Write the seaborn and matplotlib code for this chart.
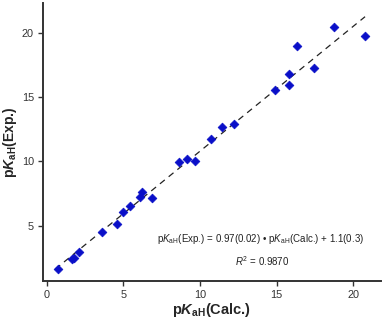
import matplotlib
matplotlib.use("Agg")
import matplotlib.pyplot as plt
import seaborn as sns
import pandas as pd
import numpy as np

# Data
calc = [0.76, 1.63, 1.76, 2.09, 3.59, 4.61, 4.98, 5.43, 6.09, 6.20, 6.85,
        8.63, 9.17, 9.65, 10.70, 11.44, 12.24, 14.89, 15.81, 15.83, 16.35,
        17.44, 18.76, 20.76]
exp = [1.67, 2.45, 2.50, 2.99, 4.54, 5.16, 6.09, 6.56, 7.27, 7.61, 7.20,
       9.96, 10.22, 10.06, 11.77, 12.67, 12.88, 15.52, 15.90, 16.75, 18.97,
       17.27, 20.42, 19.72]
slope = 0.97
intercept = 1.1
xticks = [0, 5, 10, 15, 20]
yticks = [5, 10, 15, 20]

sns.set_theme(style="ticks")
plt.rcParams["font.family"] = ["Liberation Sans", "DejaVu Sans"]
plt.rcParams["mathtext.fontset"] = "custom"
plt.rcParams["mathtext.rm"] = "Liberation Sans"
plt.rcParams["mathtext.it"] = "Liberation Sans:italic"
plt.rcParams["mathtext.bf"] = "Liberation Sans:bold"
plt.rcParams["mathtext.bfit"] = "Liberation Sans:bold:italic"

df = pd.DataFrame({"calc": calc, "exp": exp})

fig = plt.figure(figsize=(3.83, 3.22), dpi=100)
ax = fig.add_axes([0.1123, 0.1273, 0.8825, 0.8634])

lx = np.array([min(calc) - 0.2, max(calc)])
line_df = pd.DataFrame({"x": lx, "y": slope * lx + intercept})
sns.lineplot(data=line_df, x="x", y="y", ax=ax, color="#222222",
             linestyle=(0, (5, 4)), linewidth=0.9, zorder=1)
sns.scatterplot(data=df, x="calc", y="exp", ax=ax, marker="D", s=20,
                color="#0a0fc8", edgecolor="#0a0fc8", linewidth=0.5, zorder=2)

ax.set_xlim(-0.24, 21.8)
ax.set_ylim(0.72, 22.3)
ax.set_xticks(xticks)
ax.set_yticks(yticks)
ax.tick_params(axis="both", labelsize=7.8, colors="#333333", length=3.5,
               width=1.0, direction="out", pad=3)
for s in ["left", "bottom"]:
    ax.spines[s].set_color("#333333")
    ax.spines[s].set_linewidth(1.4)
sns.despine(ax=ax)

ax.set_xlabel(r"p$\mathbfit{K}_{\mathbf{aH}}$(Calc.)", fontweight="bold",
              fontsize=10.5, labelpad=1)
ax.set_ylabel(r"p$\mathbfit{K}_{\mathbf{aH}}$(Exp.)", fontweight="bold",
              fontsize=10, labelpad=2)

ax.text(0.645, 0.151,
        r"p$\mathit{K}_{\mathrm{aH}}$(Exp.) = 0.97(0.02) • p$\mathit{K}_{\mathrm{aH}}$(Calc.) + 1.1(0.3)",
        transform=ax.transAxes, ha="center", va="center", fontsize=7,
        color="#222222")
ax.text(0.648, 0.072, r"$\mathit{R}^{2}$ = 0.9870", transform=ax.transAxes,
        ha="center", va="center", fontsize=7, color="#222222")

fig.savefig("out.png", dpi=100)
